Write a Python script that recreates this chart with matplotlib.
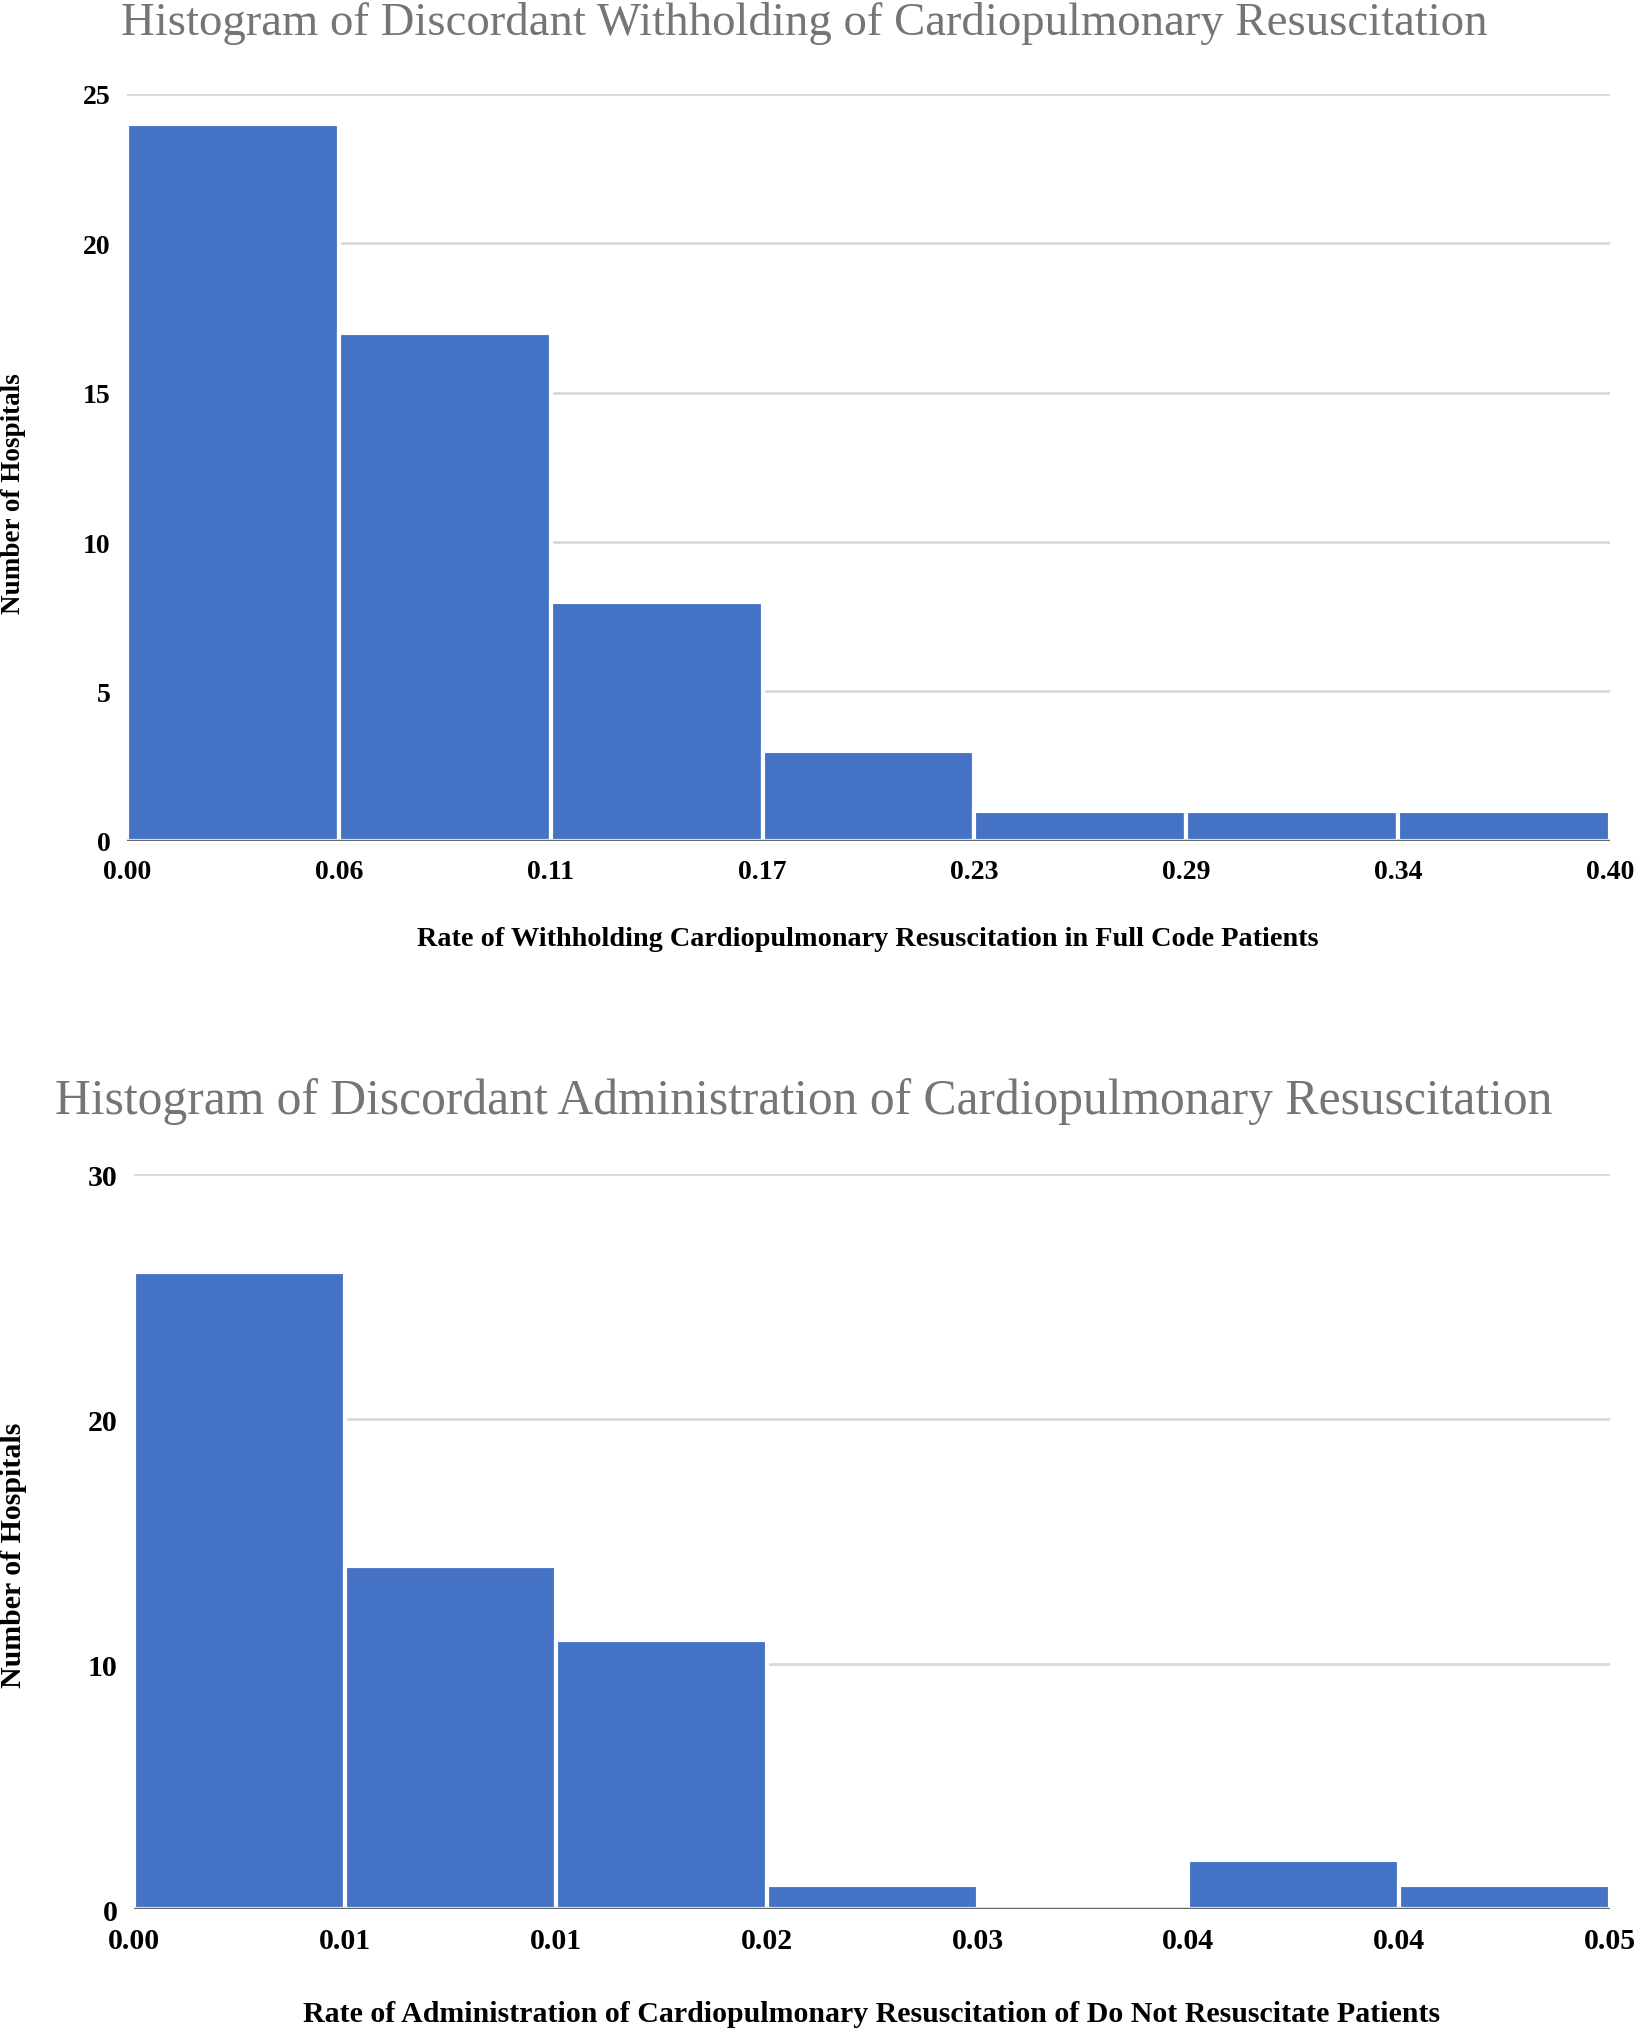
import numpy as np
import matplotlib
matplotlib.use('Agg')
import matplotlib.pyplot as plt

plt.rcParams['font.family'] = ['Liberation Serif', 'DejaVu Serif']

# top histogram: withholding CPR in full code patients
top_edges = [0.0, 0.4 / 7, 0.8 / 7, 1.2 / 7, 1.6 / 7, 2.0 / 7, 2.4 / 7, 0.4]
top_labels = ['0.00', '0.06', '0.11', '0.17', '0.23', '0.29', '0.34', '0.40']
top_counts = [24, 17, 8, 3, 1, 1, 1]

# bottom histogram: administration of CPR in DNR patients
bot_edges = [0.0, 0.05 / 7, 0.1 / 7, 0.15 / 7, 0.2 / 7, 0.25 / 7, 0.3 / 7, 0.05]
bot_labels = ['0.00', '0.01', '0.01', '0.02', '0.03', '0.04', '0.04', '0.05']
bot_counts = [26, 14, 11, 1, 0, 2, 1]

BLUE = '#4472c4'
TITLE_GRAY = '#757575'


def draw_hist(ax, edges, counts, labels, ymax, ystep, fs):
    edges = np.array(edges)
    widths = np.diff(edges)
    ax.bar(edges[:-1], counts, width=widths, align='edge', color=BLUE,
           edgecolor='white', linewidth=3, zorder=3)
    ax.set_xlim(edges[0], edges[-1])
    ax.set_ylim(0, ymax)
    ax.set_yticks(np.arange(0, ymax + 1, ystep))
    ax.set_xticks(edges)
    ax.set_xticklabels(labels)
    ax.grid(axis='y', color='#d9d9d9', linewidth=2, zorder=0)
    ax.axhline(0, color='#666666', linewidth=2.5, zorder=4)
    for s in ax.spines.values():
        s.set_visible(False)
    ax.tick_params(length=0, labelsize=fs, pad=12)
    ax.tick_params(axis='x', pad=13)
    for t in ax.get_xticklabels() + ax.get_yticklabels():
        t.set_fontweight('bold')


fig = plt.figure(figsize=(16.39, 20.40), dpi=100)

ax1 = fig.add_axes([0.0775, 0.5873, 0.9048, 0.3662])
draw_hist(ax1, top_edges, top_counts, top_labels, 25, 5, 20)
fig.text(0.4906, 0.9887, 'Histogram of Discordant Withholding of Cardiopulmonary Resuscitation',
         ha='center', va='center', fontsize=33.7, color=TITLE_GRAY)
fig.text(0.5296, 0.5397, 'Rate of Withholding Cardiopulmonary Resuscitation in Full Code Patients',
         ha='center', va='center', fontsize=20.3, fontweight='bold')
fig.text(0.008, 0.7578, 'Number of Hospitals', rotation=90, ha='center', va='center',
         fontsize=19.5, fontweight='bold')

ax2 = fig.add_axes([0.0818, 0.0637, 0.9006, 0.3603])
draw_hist(ax2, bot_edges, bot_counts, bot_labels, 30, 10, 21.5)
fig.text(0.4906, 0.4598, 'Histogram of Discordant Administration of Cardiopulmonary Resuscitation',
         ha='center', va='center', fontsize=35.7, color=TITLE_GRAY)
fig.text(0.532, 0.0123, 'Rate of Administration of Cardiopulmonary Resuscitation of Do Not Resuscitate Patients',
         ha='center', va='center', fontsize=21.5, fontweight='bold')
fig.text(0.0085, 0.2377, 'Number of Hospitals', rotation=90, ha='center', va='center',
         fontsize=21.5, fontweight='bold')

fig.savefig('out.png', dpi=100)
plt.close(fig)
